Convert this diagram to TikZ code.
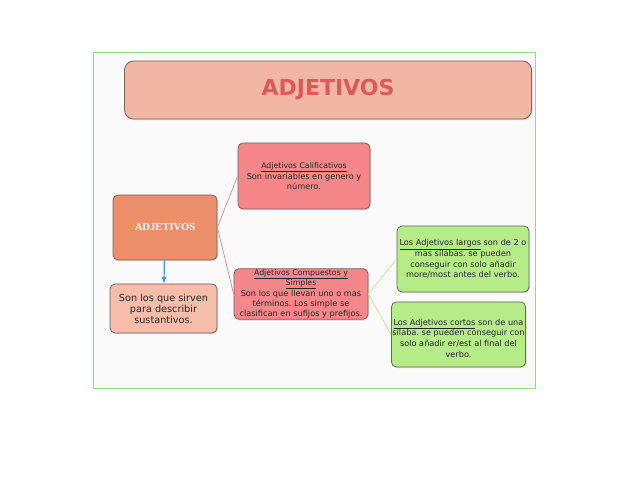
\documentclass[tikz,border=0pt]{standalone}
\usepackage{fontspec}
\setmainfont{DejaVu Sans}
\newfontfamily\boxserif{Liberation Serif}
\usepackage{tikz}
\usetikzlibrary{arrows,positioning,shadows}
\frenchspacing
\definecolor{titlefill}{HTML}{F2B6A4}
\definecolor{titletext}{HTML}{DC5A58}
\definecolor{mainfill}{HTML}{EE8F6C}
\definecolor{notefill}{HTML}{F5BDAA}
\definecolor{redfill}{HTML}{F5878A}
\definecolor{greenfill}{HTML}{B6EC88}
\definecolor{boxline}{HTML}{6E6462}
\definecolor{redlink}{HTML}{D99696}
\definecolor{greenlink}{HTML}{BFE8A0}
\definecolor{framegreen}{HTML}{95D995}
\definecolor{arrowblue}{HTML}{3D9BE0}
\newcommand{\cardhead}[1]{{\fontsize{7.8}{10}\selectfont\underline{#1}}}
\tikzstyle{card}=[rectangle,rounded corners=5pt,draw=boxline,thick,align=center,
drop shadow={opacity=0.25,shadow xshift=1pt,shadow yshift=-1.2pt},inner sep=1pt,text=black!85]
\tikzstyle{redcard}=[card,fill=redfill,minimum width=132pt,
font=\fontsize{8.2}{10}\selectfont]
\tikzstyle{greencard}=[card,fill=greenfill,minimum width=132pt,
font=\fontsize{8.2}{10.6}\selectfont]
\tikzstyle{redline}=[draw=redlink,thick]
\tikzstyle{greenline}=[draw=greenlink,thick]

\begin{document}
\begin{tikzpicture}[x=1pt,y=-1pt]
            \useasboundingbox (0,0) rectangle (638,478);
            \fill[white] (0,0) rectangle (638,478);
            \draw[framegreen,fill=black!2] (93,52) rectangle (535,388);

            % TITLE PART

            \node[card,fill=titlefill,minimum width=407pt,minimum height=58pt,rounded corners=9pt,
            text=titletext,font=\fontsize{22}{24}\selectfont\bfseries] (title) at (328,90) {ADJETIVOS};

            % LEFT PART

            \node[card,fill=mainfill,minimum width=104pt,minimum height=65pt,text=white,
            font=\boxserif\fontsize{10.6}{12}\selectfont\bfseries] (adj) at (165,227.5) {ADJETIVOS};
            \node[card,fill=notefill,minimum width=107pt,minimum height=49pt,
            font=\fontsize{9.7}{11}\selectfont] (sirven) at (163.5,308.5) {Son los que sirven\\para describir\\sustantivos.};

            \path[-latex,color=arrowblue,very thick] (adj) edge node {} (sirven);

            % RED PART

            \node[redcard,minimum height=66pt] (calif) at (304,176)
            {\cardhead{Adjetivos Calificativos}\\[1pt]Son invariables en genero y\\número.};
            \node[redcard,minimum width=134pt,minimum height=50pt] (comp) at (301,294)
            {\cardhead{Adjetivos Compuestos y}\\\cardhead{Simples}\\[1pt]Son los que llevan uno o mas\\términos. Los simple se\\clasifican en sufijos y prefijos.};

            \path[redline] (adj.east) edge node {} (calif.west);
            \path[redline] (adj.east) edge node {} (comp.west);

            % GREEN PART

            \node[greencard,minimum height=66pt] (largos) at (463,259)
            {\underline{Los Adjetivos largos} son de 2 o\\mas sílabas. se pueden\\conseguir con solo añadir\\more/most antes del verbo.};
            \node[greencard,minimum width=133pt,minimum height=65pt] (cortos) at (458.5,334.5)
            {\mbox{}\\[3pt]\underline{Los Adjetivos cortos} son de una\\sílaba. se pueden conseguir con\\solo añadir er/est al final del\\verbo.};

            \path[greenline] (comp.east) edge node {} (largos.west);
            \path[greenline] (comp.east) edge node {} (cortos.west);

        \end{tikzpicture}
\end{document}
